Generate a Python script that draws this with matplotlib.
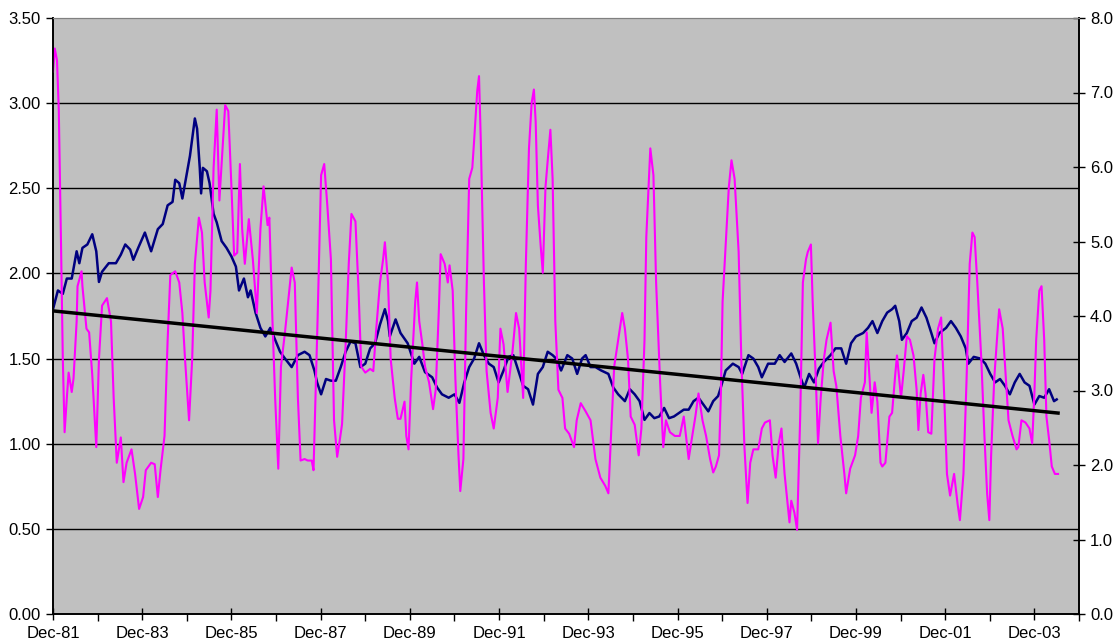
import matplotlib.pyplot as plt
import numpy as np

plt.rcParams['font.family'] = ['Liberation Sans', 'DejaVu Sans']

# left axis series (navy), x in decimal years
navy_year = [1981.92, 1982.03, 1982.14, 1982.23, 1982.34, 1982.45, 1982.51, 1982.58, 1982.69, 1982.80,
             1982.89, 1982.95, 1983.02, 1983.17, 1983.33, 1983.44, 1983.54, 1983.65, 1983.72, 1983.83,
             1983.98, 1984.12, 1984.27, 1984.38, 1984.49, 1984.60, 1984.66, 1984.75, 1984.82, 1984.93,
             1984.99, 1985.10, 1985.15, 1985.21, 1985.24, 1985.28, 1985.37, 1985.43, 1985.52, 1985.59,
             1985.70, 1985.81, 1985.92, 1986.02, 1986.09, 1986.20, 1986.29, 1986.35, 1986.46, 1986.57,
             1986.68, 1986.79, 1986.90, 1987.01, 1987.12, 1987.27, 1987.41, 1987.56, 1987.67, 1987.78,
             1987.84, 1987.93, 1988.04, 1988.15, 1988.26, 1988.37, 1988.48, 1988.59, 1988.70, 1988.81,
             1988.92, 1989.03, 1989.14, 1989.25, 1989.36, 1989.43, 1989.47, 1989.60, 1989.71, 1989.87,
             1990.02, 1990.13, 1990.26, 1990.42, 1990.53, 1990.64, 1990.79, 1990.92, 1991.03, 1991.14,
             1991.25, 1991.36, 1991.47, 1991.58, 1991.69, 1991.80, 1991.91, 1992.02, 1992.13, 1992.24,
             1992.35, 1992.46, 1992.57, 1992.68, 1992.79, 1992.90, 1993.01, 1993.12, 1993.20, 1993.31,
             1993.45, 1993.56, 1993.67, 1993.78, 1993.86, 1993.97, 1994.08, 1994.21, 1994.37, 1994.48,
             1994.59, 1994.74, 1994.85, 1994.96, 1995.07, 1995.18, 1995.29, 1995.40, 1995.51, 1995.62,
             1995.73, 1995.84, 1995.95, 1996.06, 1996.17, 1996.28, 1996.39, 1996.50, 1996.61, 1996.72,
             1996.83, 1996.89, 1997.00, 1997.16, 1997.29, 1997.37, 1997.51, 1997.62, 1997.73, 1997.81,
             1997.95, 1998.10, 1998.21, 1998.32, 1998.47, 1998.58, 1998.69, 1998.76, 1998.87, 1998.98,
             1999.09, 1999.20, 1999.35, 1999.46, 1999.59, 1999.70, 1999.81, 1999.92, 2000.08, 2000.19,
             2000.29, 2000.40, 2000.51, 2000.62, 2000.73, 2000.80, 2000.89, 2000.95, 2001.06, 2001.17,
             2001.28, 2001.39, 2001.50, 2001.61, 2001.68, 2001.79, 2001.94, 2002.05, 2002.16, 2002.27,
             2002.38, 2002.44, 2002.56, 2002.71, 2002.82, 2002.93, 2003.04, 2003.15, 2003.26, 2003.37,
             2003.48, 2003.59, 2003.70, 2003.81, 2003.92, 2004.03, 2004.14, 2004.25, 2004.36, 2004.42]
navy_val = [1.79, 1.90, 1.88, 1.97, 1.97, 2.13, 2.06, 2.15, 2.17, 2.23,
            2.13, 1.95, 2.01, 2.06, 2.06, 2.11, 2.17, 2.14, 2.08, 2.15,
            2.24, 2.13, 2.26, 2.29, 2.40, 2.42, 2.55, 2.53, 2.44, 2.60,
            2.69, 2.91, 2.85, 2.62, 2.47, 2.62, 2.60, 2.53, 2.35, 2.30,
            2.19, 2.15, 2.10, 2.04, 1.90, 1.97, 1.86, 1.90, 1.77, 1.68,
            1.63, 1.68, 1.61, 1.54, 1.50, 1.45, 1.52, 1.54, 1.52, 1.43,
            1.36, 1.29, 1.38, 1.37, 1.37, 1.45, 1.54, 1.60, 1.59, 1.45,
            1.47, 1.56, 1.59, 1.70, 1.79, 1.72, 1.63, 1.73, 1.65, 1.59,
            1.47, 1.51, 1.42, 1.39, 1.33, 1.29, 1.27, 1.29, 1.24, 1.36,
            1.45, 1.50, 1.59, 1.52, 1.47, 1.45, 1.36, 1.43, 1.51, 1.52,
            1.43, 1.34, 1.32, 1.23, 1.41, 1.45, 1.54, 1.52, 1.50, 1.43,
            1.52, 1.50, 1.41, 1.50, 1.52, 1.45, 1.45, 1.43, 1.41, 1.33,
            1.29, 1.25, 1.32, 1.29, 1.25, 1.14, 1.18, 1.15, 1.16, 1.21,
            1.15, 1.16, 1.18, 1.20, 1.20, 1.25, 1.27, 1.23, 1.19, 1.25,
            1.28, 1.33, 1.43, 1.47, 1.45, 1.41, 1.52, 1.50, 1.45, 1.39,
            1.47, 1.47, 1.52, 1.48, 1.53, 1.47, 1.38, 1.33, 1.41, 1.36,
            1.44, 1.48, 1.52, 1.56, 1.56, 1.47, 1.59, 1.63, 1.65, 1.68,
            1.72, 1.65, 1.72, 1.77, 1.79, 1.81, 1.72, 1.61, 1.65, 1.72,
            1.74, 1.80, 1.74, 1.65, 1.59, 1.65, 1.68, 1.72, 1.68, 1.63,
            1.56, 1.47, 1.51, 1.50, 1.47, 1.41, 1.36, 1.38, 1.34, 1.29,
            1.36, 1.41, 1.36, 1.34, 1.23, 1.28, 1.27, 1.32, 1.25, 1.26]

# right axis series (magenta)
mag_year = [1981.92, 1981.96, 1982.01, 1982.05, 1982.10, 1982.14, 1982.18, 1982.23, 1982.27, 1982.34,
            1982.38, 1982.45, 1982.47, 1982.56, 1982.58, 1982.67, 1982.73, 1982.80, 1982.89, 1982.95,
            1983.02, 1983.13, 1983.22, 1983.28, 1983.35, 1983.44, 1983.50, 1983.57, 1983.68, 1983.76,
            1983.85, 1983.94, 1984.00, 1984.12, 1984.20, 1984.27, 1984.33, 1984.42, 1984.49, 1984.55,
            1984.66, 1984.75, 1984.82, 1984.88, 1984.97, 1985.04, 1985.10, 1985.19, 1985.26, 1985.32,
            1985.41, 1985.45, 1985.52, 1985.59, 1985.65, 1985.78, 1985.85, 1985.92, 1985.98, 1986.05,
            1986.11, 1986.16, 1986.22, 1986.31, 1986.40, 1986.49, 1986.57, 1986.64, 1986.73, 1986.77,
            1986.84, 1986.90, 1986.97, 1987.03, 1987.12, 1987.19, 1987.27, 1987.34, 1987.41, 1987.47,
            1987.56, 1987.63, 1987.72, 1987.76, 1987.85, 1987.93, 1988.00, 1988.07, 1988.15, 1988.22,
            1988.29, 1988.35, 1988.40, 1988.48, 1988.55, 1988.61, 1988.70, 1988.77, 1988.83, 1988.92,
            1989.03, 1989.10, 1989.16, 1989.25, 1989.32, 1989.36, 1989.43, 1989.49, 1989.58, 1989.65,
            1989.71, 1989.80, 1989.84, 1989.89, 1989.95, 1990.04, 1990.08, 1990.13, 1990.20, 1990.26,
            1990.35, 1990.44, 1990.50, 1990.57, 1990.61, 1990.70, 1990.77, 1990.81, 1990.88, 1990.94,
            1991.01, 1991.05, 1991.12, 1991.18, 1991.25, 1991.32, 1991.36, 1991.43, 1991.47, 1991.51,
            1991.58, 1991.64, 1991.73, 1991.80, 1991.89, 1991.95, 1992.02, 1992.11, 1992.22, 1992.30,
            1992.37, 1992.46, 1992.52, 1992.59, 1992.65, 1992.70, 1992.74, 1992.79, 1992.85, 1992.90,
            1992.96, 1993.01, 1993.07, 1993.12, 1993.18, 1993.25, 1993.34, 1993.40, 1993.49, 1993.60,
            1993.66, 1993.75, 1993.86, 1993.97, 1994.08, 1994.19, 1994.30, 1994.37, 1994.43, 1994.50,
            1994.59, 1994.68, 1994.74, 1994.81, 1994.87, 1994.96, 1995.05, 1995.11, 1995.18, 1995.22,
            1995.31, 1995.38, 1995.44, 1995.53, 1995.60, 1995.66, 1995.75, 1995.86, 1995.97, 1996.06,
            1996.17, 1996.25, 1996.32, 1996.39, 1996.48, 1996.56, 1996.65, 1996.72, 1996.78, 1996.85,
            1996.89, 1996.93, 1997.00, 1997.07, 1997.13, 1997.20, 1997.29, 1997.35, 1997.42, 1997.49,
            1997.55, 1997.62, 1997.73, 1997.81, 1997.88, 1997.99, 1998.05, 1998.12, 1998.19, 1998.25,
            1998.32, 1998.39, 1998.43, 1998.47, 1998.54, 1998.60, 1998.67, 1998.73, 1998.80, 1998.84,
            1998.91, 1998.95, 1999.02, 1999.07, 1999.13, 1999.20, 1999.26, 1999.35, 1999.42, 1999.48,
            1999.57, 1999.66, 1999.70, 1999.79, 1999.90, 1999.97, 2000.03, 2000.12, 2000.16, 2000.23,
            2000.27, 2000.34, 2000.40, 2000.47, 2000.51, 2000.58, 2000.67, 2000.73, 2000.80, 2000.84,
            2000.89, 2000.93, 2000.99, 2001.06, 2001.13, 2001.21, 2001.28, 2001.32, 2001.37, 2001.43,
            2001.48, 2001.54, 2001.61, 2001.68, 2001.76, 2001.83, 2001.90, 2001.96, 2002.03, 2002.12,
            2002.20, 2002.25, 2002.33, 2002.40, 2002.47, 2002.53, 2002.58, 2002.64, 2002.73, 2002.80,
            2002.86, 2002.91, 2002.95, 2003.02, 2003.08, 2003.13, 2003.21, 2003.28, 2003.34, 2003.43,
            2003.52, 2003.56, 2003.63, 2003.72, 2003.81, 2003.87, 2003.92, 2003.96, 2004.03, 2004.08,
            2004.14, 2004.19, 2004.25, 2004.31, 2004.38, 2004.45]
mag_val = [7.28, 7.59, 7.43, 6.76, 4.96, 3.42, 2.44, 2.90, 3.24, 2.98,
           3.16, 3.93, 4.40, 4.60, 4.40, 3.83, 3.78, 3.21, 2.24, 3.42,
           4.14, 4.24, 3.93, 2.90, 2.03, 2.37, 1.77, 2.03, 2.21, 1.88,
           1.41, 1.57, 1.93, 2.03, 2.01, 1.57, 1.93, 2.39, 3.68, 4.55,
           4.60, 4.45, 4.04, 3.42, 2.60, 3.42, 4.70, 5.32, 5.12, 4.45,
           3.98, 4.34, 5.99, 6.77, 5.55, 6.83, 6.75, 5.73, 4.81, 4.85,
           6.04, 5.17, 4.70, 5.30, 4.76, 4.04, 5.17, 5.74, 5.22, 5.32,
           3.93, 2.90, 1.95, 3.32, 3.78, 4.19, 4.65, 4.45, 2.90, 2.06,
           2.08, 2.06, 2.06, 1.93, 3.93, 5.89, 6.04, 5.48, 4.76, 2.60,
           2.11, 2.34, 2.55, 3.62, 4.70, 5.37, 5.27, 4.34, 3.32, 3.24,
           3.29, 3.26, 3.78, 4.45, 4.76, 4.99, 4.45, 3.42, 2.90, 2.62,
           2.62, 2.85, 2.39, 2.21, 3.16, 4.19, 4.45, 3.93, 3.62, 3.32,
           3.11, 2.75, 3.01, 4.09, 4.83, 4.70, 4.45, 4.68, 4.34, 3.16,
           2.13, 1.65, 2.08, 4.04, 5.84, 5.99, 6.35, 7.02, 7.22, 6.35,
           4.45, 3.26, 2.70, 2.49, 2.90, 3.83, 3.62, 2.98, 3.52, 4.04,
           3.83, 2.90, 4.70, 6.25, 6.86, 7.04, 6.61, 5.48, 4.96, 4.58,
           5.73, 6.09, 6.50, 5.84, 3.93, 3.01, 2.90, 2.49, 2.42, 2.24,
           2.60, 2.83, 2.72, 2.60, 2.08, 1.83, 1.72, 1.62, 2.39, 3.32,
           3.68, 4.04, 3.83, 3.42, 2.65, 2.54, 2.13, 2.49, 3.68, 5.06,
           6.25, 5.89, 4.45, 3.11, 2.24, 2.60, 2.44, 2.39, 2.39, 2.65,
           2.08, 2.39, 2.65, 2.96, 2.60, 2.39, 2.08, 1.90, 1.98, 2.13,
           2.90, 4.19, 4.96, 5.73, 6.09, 5.84, 4.86, 3.42, 2.24, 1.49,
           2.03, 2.21, 2.21, 2.49, 2.57, 2.60, 2.13, 1.83, 2.29, 2.49,
           1.88, 1.47, 1.23, 1.52, 1.36, 1.13, 2.65, 4.45, 4.76, 4.86,
           4.96, 4.19, 3.16, 2.29, 2.90, 3.42, 3.68, 3.91, 3.26, 3.06,
           2.39, 1.88, 1.62, 1.95, 2.13, 2.39, 2.90, 3.11, 3.78, 3.11,
           2.70, 3.11, 2.85, 2.03, 1.98, 2.03, 2.65, 2.70, 3.21, 3.47,
           3.16, 2.90, 3.26, 3.73, 3.68, 3.47, 3.01, 2.47, 2.96, 3.21,
           2.96, 2.44, 2.42, 3.42, 3.83, 3.98, 2.90, 1.88, 1.59, 1.88,
           1.47, 1.26, 1.88, 3.16, 4.70, 5.12, 5.06, 4.45, 3.42, 2.39,
           1.62, 1.26, 2.13, 3.16, 3.68, 4.09, 3.83, 3.16, 2.60, 2.39,
           2.21, 2.24, 2.60, 2.57, 2.49, 2.29, 2.96, 3.68, 4.34, 4.40,
           3.68, 2.65, 2.34, 1.98, 1.88, 1.88]

# linear trend of the navy series (start / end values, left-axis units)
trend_year = [1981.92, 2004.45]
trend_val = [1.78, 1.18]

tick_labels = ['Dec-81', 'Dec-83', 'Dec-85', 'Dec-87', 'Dec-89', 'Dec-91',
               'Dec-93', 'Dec-95', 'Dec-97', 'Dec-99', 'Dec-01', 'Dec-03']
tick_pos = [1981.92 + 2 * i for i in range(len(tick_labels))]
minor_pos = [p + 1 for p in tick_pos]

LEFT_MAX, RIGHT_MAX = 3.5, 8.0

fig = plt.figure(figsize=(11.17, 6.44), dpi=100, facecolor='w')
ax = fig.add_axes([53 / 1117, 30 / 644, 1026 / 1117, 596 / 644])
ax.set_facecolor('#C0C0C0')
ax2 = ax.twinx()

ax.plot(navy_year, navy_val, color='#000080', lw=1.8, zorder=3)
ax2.plot(mag_year, mag_val, color='#FF00FF', lw=1.5, zorder=2)
# trend drawn on the top axes so it sits above the magenta series
ax2.plot(trend_year, np.array(trend_val) * RIGHT_MAX / LEFT_MAX, color='black', lw=2.5, zorder=4)

for a in (ax, ax2):
    a.set_xlim(trend_year[0], trend_year[1])
    a.margins(x=0)
ax.set_ylim(0, LEFT_MAX)
ax2.set_ylim(0, RIGHT_MAX)

left_ticks = np.arange(0, LEFT_MAX + 0.01, 0.5)
ax.set_yticks(left_ticks)
ax.set_yticklabels(['%.2f' % v for v in left_ticks], fontsize=12)
for v in left_ticks[1:-1]:
    ax.axhline(v, color='black', lw=1, zorder=1)

right_ticks = np.arange(0, RIGHT_MAX + 0.01, 1)
ax2.set_yticks(right_ticks)
ax2.set_yticklabels(['%.1f' % v for v in right_ticks], fontsize=12)

ax.set_xticks(tick_pos)
ax.set_xticklabels(tick_labels, fontsize=12)
ax.set_xticks(minor_pos, minor=True)
ax.tick_params(axis='x', which='major', direction='inout', length=9, width=1, pad=4)
ax.tick_params(axis='x', which='minor', direction='out', length=5, width=1)
ax.tick_params(axis='y', direction='out', length=5, width=1, pad=4)
ax2.tick_params(axis='y', direction='inout', length=8, width=1, pad=4)

for a in (ax, ax2):
    a.spines['top'].set_color('#808080')
    a.spines['left'].set_linewidth(1.2)
    a.spines['right'].set_linewidth(1.2)
    a.spines['bottom'].set_linewidth(1.2)

fig.savefig('out.png', dpi=100, facecolor='w')
